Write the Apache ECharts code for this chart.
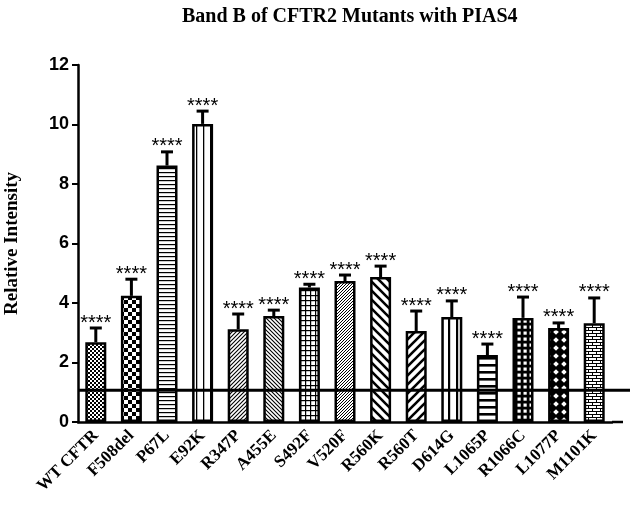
<!DOCTYPE html>
<html><head><meta charset="utf-8">
<script src="https://cdn.jsdelivr.net/npm/echarts@6/dist/echarts.min.js"></script>
<style>html,body{margin:0;padding:0;background:#fff}#c{width:633px;height:506px}</style>
</head><body><div id="c"></div>
<script>
const categories = ['WT CFTR','F508del','P67L','E92K','R347P','A455E','S492F','V520F','R560K','R560T','D614G','L1065P','R1066C','L1077P','M1101K'];
const means    = [2.68, 4.24, 8.62, 10.02, 3.12, 3.56, 4.52, 4.74, 4.87, 3.06, 3.53, 2.25, 3.50, 3.16, 3.32];
const errUpper = [3.16, 4.80, 9.08, 10.45, 3.63, 3.76, 4.63, 4.94, 5.24, 3.73, 4.07, 2.62, 4.20, 3.33, 4.17];
const sigLabels = ['****','****','****','****','****','****','****','****','****','****','****','****','****','****','****'];
const yMin = 0, yMax = 12, yStep = 2;
const refLevel = 1.07;
const titleText = 'Band B of CFTR2 Mutants with PIAS4';
const yName = 'Relative Intensity';

function pat(w,h,draw){
  const c=document.createElement('canvas');c.width=w;c.height=h;
  const g=c.getContext('2d');g.fillStyle='#fff';g.fillRect(0,0,w,h);
  g.fillStyle='#000';g.strokeStyle='#000';draw(g,w,h);
  return {image:c,repeat:'repeat'};
}
function diag(p,lw,dir){
  return pat(p,p,(g)=>{g.lineWidth=lw;g.beginPath();
    if(dir>0){
      for(let k=-1;k<=1;k++){g.moveTo(k*p-1,p+1);g.lineTo(k*p+p+1,-1);}
    } else {
      for(let k=-1;k<=1;k++){g.moveTo(k*p-1,-1);g.lineTo(k*p+p+1,p+1);}
    }
    g.stroke();});
}
const patterns = [
  pat(4,4,(g)=>{g.fillRect(0,0,2,2);g.fillRect(2,2,2,2);}),
  pat(8,8,(g)=>{g.fillRect(0,0,4,4);g.fillRect(4,4,4,4);}),
  pat(4,4,(g)=>{g.fillRect(0,0,4,1.2);}),
  pat(7,4,(g)=>{g.fillRect(0,0,1.3,4);}),
  diag(4,1.1,1),
  diag(4,1.1,-1),
  pat(5,5,(g)=>{g.fillRect(0,0,5,1.2);g.fillRect(0,0,1.2,5);}),
  diag(3,1,1),
  diag(9,2.6,-1),
  diag(9,2.6,1),
  pat(8,4,(g)=>{g.fillRect(0,0,2.2,4);}),
  pat(4,7,(g)=>{g.fillRect(0,0,4,2.6);}),
  pat(6,6,(g)=>{g.fillRect(0,0,6,6);g.fillStyle='#fff';g.fillRect(1.5,1.5,3.2,3.2);}),
  pat(8,8,(g)=>{g.fillRect(0,0,8,8);g.fillStyle='#fff';g.beginPath();
      g.moveTo(4,1.2);g.lineTo(6.8,4);g.lineTo(4,6.8);g.lineTo(1.2,4);g.closePath();g.fill();}),
  pat(8,6,(g)=>{g.fillStyle='#000';g.fillRect(0,0,8,1);g.fillRect(0,3,8,1);
      g.fillRect(0,0,1,3);g.fillRect(4,3,1,3);})
];

const chart = echarts.init(document.getElementById('c'), null, {renderer:'canvas'});
const barData = means.map((v,i)=>({value:v,itemStyle:{color:patterns[i]}}));
const errData = means.map((v,i)=>[i,v,errUpper[i]]);

chart.setOption({
  animation:false,
  backgroundColor:'#fff',
  title:{text:titleText,left:177,top:2,textStyle:{fontFamily:'Liberation Serif',fontWeight:'bold',fontSize:20,color:'#000'}},
  grid:{left:78,right:21,top:65,bottom:84,containLabel:false,outerBoundsMode:'none'},
  xAxis:{type:'category',data:categories,boundaryGap:true,
    axisLine:{lineStyle:{color:'#000',width:2.5}},
    axisTick:{alignWithLabel:true,length:6,lineStyle:{color:'#000',width:2}},
    axisLabel:{rotate:45,interval:0,margin:11,color:'#000',fontFamily:'Liberation Serif',fontWeight:'bold',fontSize:17}},
  yAxis:{type:'value',min:yMin,max:yMax,interval:yStep,
    name:yName,nameLocation:'middle',nameGap:56,nameRotate:90,
    nameTextStyle:{fontFamily:'Liberation Serif',fontWeight:'bold',fontSize:19,color:'#000'},
    axisLine:{show:true,lineStyle:{color:'#000',width:2.5}},
    axisTick:{show:true,length:6,lineStyle:{color:'#000',width:2}},
    splitLine:{show:false},
    axisLabel:{margin:9,color:'#000',fontFamily:'Liberation Sans',fontWeight:'bold',fontSize:18}},
  series:[
    {type:'bar',data:barData,barWidth:21,
      itemStyle:{borderColor:'#000',borderWidth:2.5},z:2},
    {type:'custom',data:errData,z:3,
      renderItem(params,api){
        const i=api.value(0);
        const top=api.coord([i,api.value(2)]);
        const base=api.coord([i,api.value(1)]);
        return {type:'group',children:[
          {type:'line',shape:{x1:top[0],y1:base[1],x2:top[0],y2:top[1]},style:{stroke:'#000',lineWidth:3}},
          {type:'line',shape:{x1:top[0]-6,y1:top[1],x2:top[0]+6,y2:top[1]},style:{stroke:'#000',lineWidth:3}},
          {type:'text',x:top[0],y:top[1]+5,style:{text:sigLabels[i],fill:'#000',font:'20px "Liberation Sans"',textAlign:'center',textVerticalAlign:'bottom'}}
        ]};
      }},
    {type:'custom',data:[[0,refLevel]],z:4,
      renderItem(params,api){
        const cs=params.coordSys;
        const y=api.coord([0,api.value(1)])[1];
        const yb=cs.y+cs.height;
        return {type:'group',children:[
          {type:'line',shape:{x1:cs.x,y1:y,x2:cs.x+cs.width+18,y2:y},style:{stroke:'#000',lineWidth:3}},
          {type:'line',shape:{x1:cs.x+cs.width,y1:yb,x2:cs.x+cs.width+11,y2:yb},style:{stroke:'#000',lineWidth:2.5}}
        ]};
      }}
  ]
});
</script></body></html>
